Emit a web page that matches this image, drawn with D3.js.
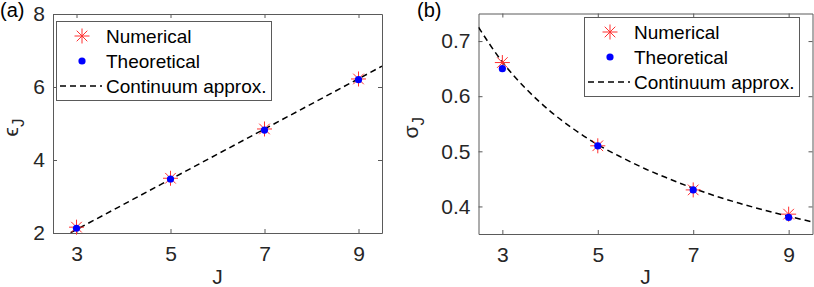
<!DOCTYPE html>
<html>
<head>
<meta charset="utf-8">
<script src="https://cdn.jsdelivr.net/npm/d3@7"></script>
<style>
  body { margin: 0; background: #fff; }
  svg { display: block; font-family: "Liberation Sans", Arial, Helvetica, sans-serif; }
</style>
</head>
<body>
<div id="chart"></div>
<script>
// values
const J = [3, 5, 7, 9];
const xTicks = [3, 5, 7, 9];

const epsNumerical = [2.16, 3.5, 4.85, 6.22];
const epsTheoretical = [2.13, 3.48, 4.82, 6.2];
const epsContJ = [2.5, 9.5];
const epsCont = [1.75, 6.57];
const epsTicks = [2, 4, 6, 8];

const sigmaNumerical = [0.661, 0.51, 0.43, 0.386];
const sigmaTheoretical = [0.65, 0.51, 0.43, 0.38];
const sigmaContJ = [2.5, 3, 3.5, 4, 4.5, 5, 5.5, 6, 6.5, 7, 7.5, 8, 8.5, 9, 9.5];
const sigmaCont = [0.725, 0.662, 0.613, 0.573, 0.540, 0.512, 0.489, 0.468, 0.450, 0.433, 0.418, 0.405, 0.393, 0.382, 0.372];
const sigmaTicks = [0.4, 0.5, 0.6, 0.7];

const legendLabels = ["Numerical", "Theoretical", "Continuum approx."];

const width = 814, height = 287;
const svg = d3.select("#chart").append("svg")
  .attr("width", width).attr("height", height);

function drawPanel(cfg) {
  var x = d3.scaleLinear().domain([2.5, 9.5]).range([cfg.left, cfg.right]);
  var y = d3.scaleLinear().domain(cfg.yDomain).range([cfg.bottom, cfg.top]);
  var g = svg.append("g");

  var clipId = "clip-" + cfg.name;
  svg.append("clipPath").attr("id", clipId)
    .append("rect")
    .attr("x", cfg.left).attr("y", cfg.top)
    .attr("width", cfg.right - cfg.left).attr("height", cfg.bottom - cfg.top);

  // axes, ticks pointing inward like matlab
  var axB = g.append("g").attr("transform", "translate(0," + cfg.bottom + ")")
    .call(d3.axisBottom(x).tickValues(xTicks).tickSize(-4).tickSizeOuter(0).tickPadding(13).tickFormat(d3.format("d")));
  var axT = g.append("g").attr("transform", "translate(0," + cfg.top + ")")
    .call(d3.axisTop(x).tickValues(xTicks).tickSize(-4).tickSizeOuter(0).tickFormat(""));
  var axL = g.append("g").attr("transform", "translate(" + cfg.left + ",0)")
    .call(d3.axisLeft(y).tickValues(cfg.yTicks).tickSize(-4).tickSizeOuter(0).tickPadding(8).tickFormat(cfg.fmt));
  var axR = g.append("g").attr("transform", "translate(" + cfg.right + ",0)")
    .call(d3.axisRight(y).tickValues(cfg.yTicks).tickSize(-4).tickSizeOuter(0).tickFormat(""));

  [axB, axT, axL, axR].forEach(function(a) {
    a.selectAll("path, line").attr("stroke", "#5a5a5a").attr("stroke-width", 1);
    a.selectAll("text").attr("fill", "#262626").style("font-size", "21px");
  });

  // continuum line
  var line = d3.line()
    .x(function(d) { return x(d[0]); })
    .y(function(d) { return y(d[1]); })
    .curve(d3.curveMonotoneX);
  g.append("path")
    .datum(d3.zip(cfg.contJ, cfg.cont))
    .attr("clip-path", "url(#" + clipId + ")")
    .attr("d", line)
    .attr("fill", "none")
    .attr("stroke", "#000")
    .attr("stroke-width", 1.5)
    .attr("stroke-dasharray", "6,4");

  // numerical: red asterisks
  var star = g.selectAll(".star").data(d3.zip(J, cfg.num)).enter().append("g")
    .attr("class", "star")
    .attr("transform", function(d) { return "translate(" + x(d[0]) + "," + y(d[1]) + ")"; });
  drawStar(star, 7.5);

  // theoretical: blue dots
  g.selectAll(".dot").data(d3.zip(J, cfg.theo)).enter().append("circle")
    .attr("class", "dot")
    .attr("cx", function(d) { return x(d[0]); })
    .attr("cy", function(d) { return y(d[1]); })
    .attr("r", 3.6)
    .attr("fill", "#0000ff");

  // axis labels
  g.append("text")
    .attr("x", (cfg.left + cfg.right) / 2).attr("y", 284)
    .attr("text-anchor", "middle")
    .attr("fill", "#262626")
    .style("font-size", "21px")
    .text("J");

  var yl = g.append("text")
    .attr("transform", "translate(" + cfg.ylabelX + "," + ((cfg.top + cfg.bottom) / 2 + 4) + ") rotate(-90)")
    .attr("text-anchor", "middle")
    .attr("fill", "#262626")
    .style("font-size", "21px");
  yl.append("tspan").text(cfg.ysym);
  yl.append("tspan").attr("dy", 6).style("font-size", "17px").text("J");

  // panel tag
  svg.append("text")
    .attr("x", cfg.tagX).attr("y", 17)
    .attr("fill", "#000")
    .style("font-size", "20px")
    .text(cfg.tag);

  // legend
  var lg = g.append("g").attr("transform", "translate(" + cfg.legX + "," + cfg.legY + ")");
  lg.append("rect")
    .attr("x", 0.5).attr("y", 0.5)
    .attr("width", 215).attr("height", 79)
    .attr("fill", "#fff")
    .attr("stroke", "#5a5a5a")
    .attr("stroke-width", 1);
  var rows = [15, 40, 65];
  lg.selectAll(".ltxt").data(legendLabels).enter().append("text")
    .attr("class", "ltxt")
    .attr("x", 50)
    .attr("y", function(d, i) { return rows[i]; })
    .attr("dy", "0.35em")
    .attr("fill", "#000")
    .style("font-size", "19px")
    .text(function(d) { return d; });
  var ls = lg.append("g").attr("transform", "translate(26," + rows[0] + ")");
  drawStar(ls, 7.5);
  lg.append("circle").attr("cx", 26).attr("cy", rows[1]).attr("r", 3.6).attr("fill", "#0000ff");
  lg.append("line")
    .attr("x1", 4).attr("x2", 46)
    .attr("y1", rows[2]).attr("y2", rows[2])
    .attr("stroke", "#000")
    .attr("stroke-width", 1.5)
    .attr("stroke-dasharray", "6,4");
}

function drawStar(sel, r) {
  var d = r * Math.SQRT1_2;
  var segs = [[-r, 0, r, 0], [0, -r, 0, r], [-d, -d, d, d], [-d, d, d, -d]];
  segs.forEach(function(s) {
    sel.append("line")
      .attr("x1", s[0]).attr("y1", s[1]).attr("x2", s[2]).attr("y2", s[3])
      .attr("stroke", "#ff3030")
      .attr("stroke-width", 1);
  });
}

drawPanel({
  name: "a", tag: "(a)", tagX: 0,
  left: 53, right: 382, top: 14, bottom: 233,
  yDomain: [2, 8], yTicks: epsTicks, fmt: d3.format("d"),
  num: epsNumerical, theo: epsTheoretical, contJ: epsContJ, cont: epsCont,
  ysym: "\u03f5", ylabelX: 18,
  legX: 56, legY: 21
});

drawPanel({
  name: "b", tag: "(b)", tagX: 417,
  left: 478.5, right: 812.5, top: 13.5, bottom: 234,
  yDomain: [0.35, 0.75], yTicks: sigmaTicks, fmt: d3.format(".1f"),
  num: sigmaNumerical, theo: sigmaTheoretical, contJ: sigmaContJ, cont: sigmaCont,
  ysym: "\u03c3", ylabelX: 418,
  legX: 584, legY: 17
});
</script>
</body>
</html>
